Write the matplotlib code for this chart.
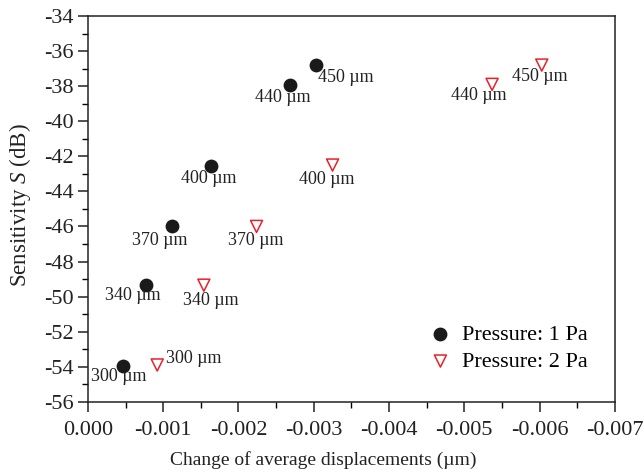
import matplotlib
matplotlib.use('Agg')
import matplotlib.pyplot as plt
from matplotlib.ticker import MultipleLocator, FormatStrFormatter

plt.rcParams['font.family'] = ['Liberation Serif', 'DejaVu Serif']
plt.rcParams['mathtext.fontset'] = 'custom'
plt.rcParams['mathtext.it'] = 'Liberation Serif:italic'
plt.rcParams['mathtext.rm'] = 'Liberation Serif'

# thickness labels
labels = ['300 µm', '340 µm', '370 µm', '400 µm', '440 µm', '450 µm']

# pressure 1 Pa
disp_1pa = [-0.00047, -0.00077, -0.00112, -0.00163, -0.00269, -0.00303]
sens_1pa = [-53.93, -49.35, -45.96, -42.56, -37.94, -36.81]

# pressure 2 Pa
disp_2pa = [-0.00092, -0.00154, -0.00224, -0.00325, -0.00537, -0.00603]
sens_2pa = [-53.9, -49.35, -46.0, -42.5, -37.9, -36.8]

# label offsets in pixels (text centre relative to marker)
offs_1pa = [(-5, -11), (-13, -10), (-13, -15), (-2, -12), (-8, -12), (30, -12)]
offs_2pa = [(37, 6), (7, -15), (-1, -14), (-6, -14), (-13, -11), (-2, -11)]

fig = plt.figure(figsize=(6.44, 4.73), dpi=100)
ax = fig.add_axes([0.1366, 0.1505, 0.818, 0.8157])

ax.scatter(disp_1pa, sens_1pa, s=80, color='#1a1a1a', marker='o',
           label='Pressure: 1 Pa', zorder=3)
ax.scatter(disp_2pa, sens_2pa, s=75, facecolors='none', edgecolors='#e8202a',
           marker='v', linewidths=1.1, label='Pressure: 2 Pa', zorder=3)

for x, y, t, o in zip(disp_1pa, sens_1pa, labels, offs_1pa):
    ax.annotate(t, (x, y), xytext=o, textcoords='offset pixels',
                ha='center', va='center', fontsize=13, color='#222222')
for x, y, t, o in zip(disp_2pa, sens_2pa, labels, offs_2pa):
    ax.annotate(t, (x, y), xytext=o, textcoords='offset pixels',
                ha='center', va='center', fontsize=13, color='#222222')

ax.set_xlim(0, -0.007)
ax.set_ylim(-56, -34)
ax.xaxis.set_major_locator(MultipleLocator(0.001))
ax.xaxis.set_minor_locator(MultipleLocator(0.0005))
ax.xaxis.set_major_formatter(FormatStrFormatter('%.3f'))
ax.yaxis.set_major_locator(MultipleLocator(2))
ax.yaxis.set_minor_locator(MultipleLocator(1))
ax.yaxis.set_major_formatter(FormatStrFormatter('%d'))

ax.tick_params(which='major', direction='out', length=7, width=1.1,
               labelsize=16, colors='#222222')
ax.tick_params(axis='x', which='major', pad=6.5)
ax.tick_params(which='minor', direction='out', length=4, width=1.0)
ax.tick_params(top=False, right=False, which='both')
for sp in ax.spines.values():
    sp.set_linewidth(1.1)
    sp.set_color('#222222')

ax.set_xlabel('Change of average displacements (µm)', fontsize=14, color='#222222')
ax.set_ylabel('Sensitivity $\\it{S}$ (dB)', fontsize=16.5, color='#222222')
ax.xaxis.set_label_coords(0.446, -0.128)
ax.yaxis.set_label_coords(-0.105, 0.51)

ax.legend(loc='lower right', frameon=False, fontsize=16, handlelength=1.0,
          handletextpad=0.45, borderaxespad=0.6, labelspacing=0.3,
          bbox_to_anchor=(0.99, 0.02))

fig.savefig('out.png', dpi=100)
